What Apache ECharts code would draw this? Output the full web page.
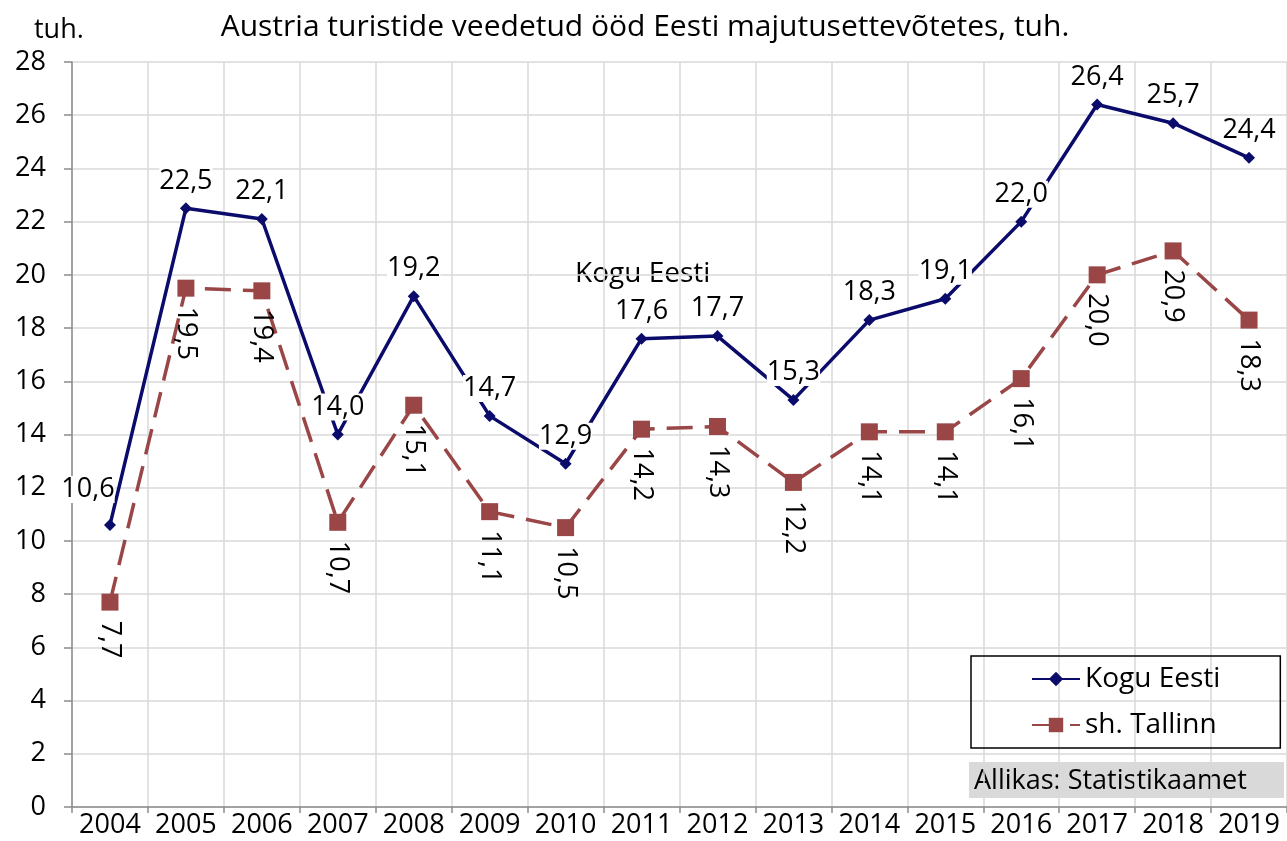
<!DOCTYPE html>
<html>
<head>
<meta charset="utf-8">
<script src="https://cdn.jsdelivr.net/npm/echarts@6/dist/echarts.min.js"></script>
<style>
  html, body { margin: 0; padding: 0; background: #fff; }
  #chart { width: 1287px; height: 841px; }
</style>
</head>
<body>
<div id="chart"></div>
<script>
const years = ['2004', '2005', '2006', '2007', '2008', '2009', '2010', '2011',
  '2012', '2013', '2014', '2015', '2016', '2017', '2018', '2019']
const koguEesti = [10.6, 22.5, 22.1, 14.0, 19.2, 14.7, 12.9, 17.6, 17.7, 15.3, 18.3, 19.1, 22.0, 26.4, 25.7, 24.4]
const tallinn = [7.7, 19.5, 19.4, 10.7, 15.1, 11.1, 10.5, 14.2, 14.3, 12.2, 14.1, 14.1, 16.1, 20.0, 20.9, 18.3]

const font = '"Open Sans", sans-serif'
const comma = p => p.value.toFixed(1).replace('.', ',')

const chart = echarts.init(document.getElementById('chart'))
chart.setOption({
  animation: false,
  textStyle: { fontFamily: font },
  title: {
    text: 'Austria turistide veedetud ööd Eesti majutusettevõtetes, tuh.',
    left: 640,
    textAlign: 'center',
    top: 7,
    textStyle: { fontFamily: font, fontSize: 30, fontWeight: 'normal', color: '#000' },
  },
  grid: { left: 72, right: -1, top: 62, bottom: 34 },
  legend: {
    orient: 'vertical',
    left: 971,
    top: 656,
    width: 310,
    padding: [9, 60, 9, 60],
    borderColor: '#000',
    borderWidth: 1.5,
    itemWidth: 48,
    itemHeight: 18,
    itemGap: 18,
    textStyle: { fontFamily: font, fontSize: 28, color: '#000' },
    data: ['Kogu Eesti', 'sh. Tallinn'],
  },
  graphic: [
    {
      type: 'text', left: 34, top: 17,
      style: { text: 'tuh.', font: '27px ' + font, fill: '#000' },
    },
    {
      type: 'text', left: 575, top: 260,
      style: { text: 'Kogu Eesti', font: '28px ' + font, fill: '#000' },
    },
    {
      type: 'rect', left: 969, top: 762,
      shape: { width: 315, height: 36 },
      style: { fill: '#d9d9d9' },
    },
    {
      type: 'text', left: 974, top: 768,
      style: { text: 'Allikas: Statistikaamet', font: '27px ' + font, fill: '#000' },
    },
  ],
  xAxis: {
    type: 'category',
    data: years,
    boundaryGap: true,
    axisLine: { lineStyle: { color: '#8c8c8c', width: 1.5 } },
    axisTick: { show: true, length: 6, lineStyle: { color: '#8c8c8c', width: 1.5 } },
    axisLabel: { color: '#000', fontSize: 27, fontFamily: font, margin: 5, interval: 0 },
    splitLine: { show: true, lineStyle: { color: '#d9d9d9', width: 1.5 } },
  },
  yAxis: {
    type: 'value',
    min: 0,
    max: 28,
    interval: 2,
    axisLine: { show: true, lineStyle: { color: '#8c8c8c', width: 1.5 } },
    axisTick: { show: true, length: 8, lineStyle: { color: '#8c8c8c', width: 1.5 } },
    axisLabel: { color: '#000', fontSize: 27, fontFamily: font, margin: 26 },
    splitLine: { lineStyle: { color: '#d9d9d9', width: 1.5 } },
  },
  series: [
    {
      name: 'Kogu Eesti',
      type: 'line',
      data: koguEesti,
      z: 3,
      symbol: 'diamond',
      symbolSize: 12,
      color: '#0b0b6b',
      lineStyle: { width: 3.5, color: '#0b0b6b' },
      itemStyle: { color: '#0b0b6b' },
      label: {
        show: true,
        position: 'top',
        distance: 8,
        fontSize: 27,
        fontFamily: font,
        color: '#000',
        formatter: comma,
        backgroundColor: '#fff',
      },
      // first label sits up-left of its marker
      labelLayout: p => p.dataIndex === 0 ? { dx: -22, dy: -8 } : {},
    },
    {
      name: 'sh. Tallinn',
      type: 'line',
      data: tallinn,
      z: 2,
      symbol: 'rect',
      symbolSize: 17,
      color: '#9a4646',
      lineStyle: { width: 3.5, color: '#9a4646', type: [26, 12] },
      itemStyle: { color: '#9a4646' },
      label: {
        show: true,
        position: 'bottom',
        rotate: -90,
        align: 'left',
        verticalAlign: 'middle',
        distance: 10,
        fontSize: 27,
        fontFamily: font,
        color: '#000',
        formatter: comma,
      },
    },
  ],
})
</script>
</body>
</html>
